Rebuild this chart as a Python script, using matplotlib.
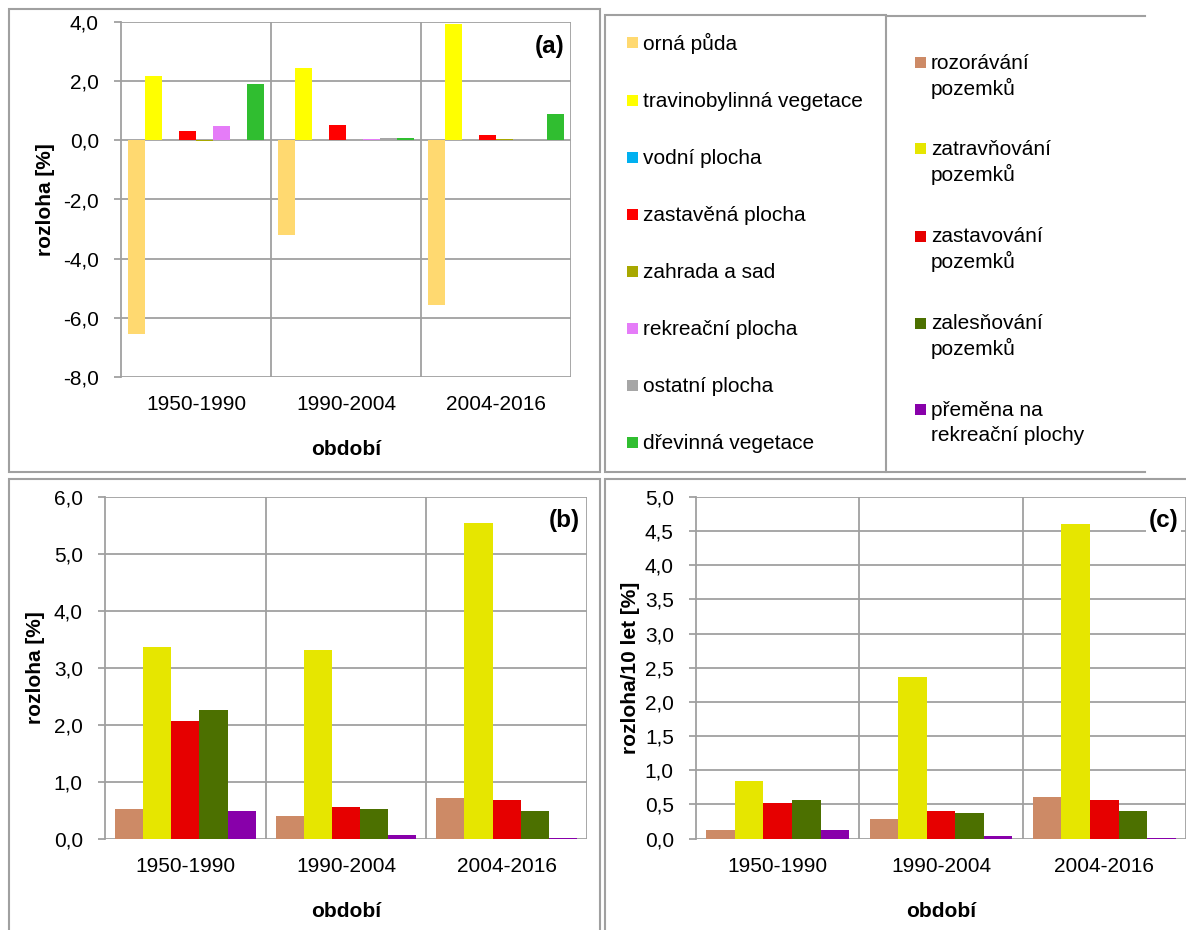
import matplotlib
matplotlib.use("Agg")
import matplotlib.pyplot as plt
from matplotlib.patches import Rectangle
from matplotlib.lines import Line2D
import numpy as np

plt.rcParams['font.family'] = ['Liberation Sans', 'DejaVu Sans']

periods = ["1950-1990", "1990-2004", "2004-2016"]

# Panel (a) – land cover change
a_names = ["orná půda", "travinobylinná vegetace", "vodní plocha", "zastavěná plocha",
           "zahrada a sad", "rekreační plocha", "ostatní plocha", "dřevinná vegetace"]
a_colors = ["#FFD970", "#FFFF00", "#00B0F0", "#FF0000",
            "#A8A800", "#E57CF8", "#A6A6A6", "#30BE30"]
orna = [-6.55, -3.2, -5.58]
travino = [2.16, 2.43, 3.94]
vodni = [0.0, 0.0, 0.0]
zastavena = [0.30, 0.52, 0.17]
zahrada = [-0.03, 0.0, 0.03]
rekreacni = [0.47, 0.03, 0.0]
ostatni = [0.0, 0.09, -0.03]
drevinna = [1.89, 0.09, 0.88]
a_values = [orna, travino, vodni, zastavena, zahrada, rekreacni, ostatni, drevinna]

# Panels (b), (c) – processes
p_names = ["rozorávání\npozemků", "zatravňování\npozemků", "zastavování\npozemků",
           "zalesňování\npozemků", "přeměna na\nrekreační plochy"]
p_colors = ["#CD8A66", "#E6E600", "#E60000", "#4C7000", "#8800AA"]
b_rozor = [0.51, 0.39, 0.72]
b_zatrav = [3.37, 3.31, 5.54]
b_zastav = [2.06, 0.55, 0.68]
b_zales = [2.25, 0.51, 0.48]
b_premena = [0.48, 0.06, 0.01]
b_values = [b_rozor, b_zatrav, b_zastav, b_zales, b_premena]

c_rozor = [0.13, 0.28, 0.61]
c_zatrav = [0.84, 2.37, 4.61]
c_zastav = [0.52, 0.40, 0.57]
c_zales = [0.56, 0.38, 0.40]
c_premena = [0.12, 0.04, 0.01]
c_values = [c_rozor, c_zatrav, c_zastav, c_zales, c_premena]

W, H = 1186, 930
fig = plt.figure(figsize=(W / 100, H / 100), dpi=100)
GRID = "#A0A0A0"
FS = 15


def px_axes(l, t, r, b):
    return fig.add_axes([l / W, 1 - b / H, (r - l) / W, (b - t) / H])


def fmt(v):
    return f"{v:.1f}".replace(".", ",")


def draw_panel(ax, values, colors, width, ylim, yticks, ylabel, tag, tagbg=False,
               ylabelpad=5):
    n = len(values)
    x = np.arange(len(periods))
    for i, (vals, col) in enumerate(zip(values, colors)):
        ax.bar(x + (i - (n - 1) / 2) * width, vals, width=width, color=col,
               linewidth=0, zorder=3)
    ax.set_xlim(-0.5, len(periods) - 0.5)
    ax.set_ylim(*ylim)
    ax.set_yticks(yticks)
    ax.set_yticklabels([fmt(v) for v in yticks], fontsize=FS)
    for v in yticks:
        ax.axhline(v, color=GRID, lw=1.3, zorder=1)
    for xv in np.arange(0.5, len(periods), 1.0):
        ax.axvline(xv, color=GRID, lw=1.3, zorder=1)
    for s in ["top", "right", "bottom"]:
        ax.spines[s].set_visible(False)
    ax.spines["left"].set_color(GRID)
    ax.spines["left"].set_linewidth(1.3)
    ax.tick_params(axis="y", length=5, width=1.3, color=GRID, pad=11)
    ax.tick_params(axis="x", length=0, pad=13)
    ax.set_xticks(x)
    ax.set_xticklabels(periods, fontsize=FS)
    ax.set_xlabel("období", fontsize=FS, fontweight="bold", labelpad=19)
    ax.set_ylabel(ylabel, fontsize=FS, fontweight="bold", labelpad=ylabelpad)
    bbox = dict(facecolor="white", edgecolor="none", pad=2) if tagbg else None
    ax.text(0.985, 0.93, tag, transform=ax.transAxes, ha="right", va="center",
            fontsize=17.5, fontweight="bold", zorder=5, bbox=bbox)


axa = px_axes(121, 22, 571, 377)
draw_panel(axa, a_values, a_colors, 0.1133, (-8, 4), np.arange(-8, 4.01, 2.0),
           "rozloha [%]", "(a)", ylabelpad=6)

axb = px_axes(105, 497, 587, 838.5)
draw_panel(axb, b_values, p_colors, 0.175, (0, 6), np.arange(0, 6.01, 1.0),
           "rozloha [%]", "(b)", ylabelpad=6)

axc = px_axes(696, 497, 1186, 838.5)
draw_panel(axc, c_values, p_colors, 0.175, (0, 5), np.arange(0, 5.01, 0.5),
           "rozloha/10 let [%]", "(c)", tagbg=True, ylabelpad=3)


# Boxes (pixel coordinates)
def box(l, t, r, b):
    fig.patches.append(Rectangle((l / W, 1 - b / H), (r - l) / W, (b - t) / H,
                                 transform=fig.transFigure, fill=False,
                                 edgecolor=GRID, lw=1.5))


def hline(x0, x1, y):
    fig.lines.append(Line2D([x0 / W, x1 / W], [1 - y / H, 1 - y / H],
                            transform=fig.transFigure, color=GRID, lw=1.5))


box(8.5, 9.5, 600, 472)
box(605, 15, 886, 472)
hline(886, 1145, 16.5)
hline(886, 1145, 472)
box(8.5, 479.5, 600, 960)
box(605, 479.5, 1200, 960)

# Legend 1
rows1 = [43, 101, 158, 215, 272, 329, 386, 443]
for name, col, y in zip(a_names, a_colors, rows1):
    fig.patches.append(Rectangle((627 / W, 1 - (y + 5.5) / H), 11 / W, 11 / H,
                                 transform=fig.transFigure, color=col, lw=0))
    fig.text(643 / W, 1 - (y - 1.5) / H, name, fontsize=FS, va="center_baseline",
             ha="left")

# Legend 2
rows2 = [63, 149, 236, 323, 410]
for name, col, y in zip(p_names, p_colors, rows2):
    fig.patches.append(Rectangle((915 / W, 1 - (y + 5.5) / H), 11 / W, 11 / H,
                                 transform=fig.transFigure, color=col, lw=0))
    for k, line in enumerate(name.split("\n")):
        fig.text(931 / W, 1 - (y - 1.5 + 24.5 * k) / H, line, fontsize=FS,
                 va="center_baseline", ha="left")

fig.savefig("out.png", dpi=100)
